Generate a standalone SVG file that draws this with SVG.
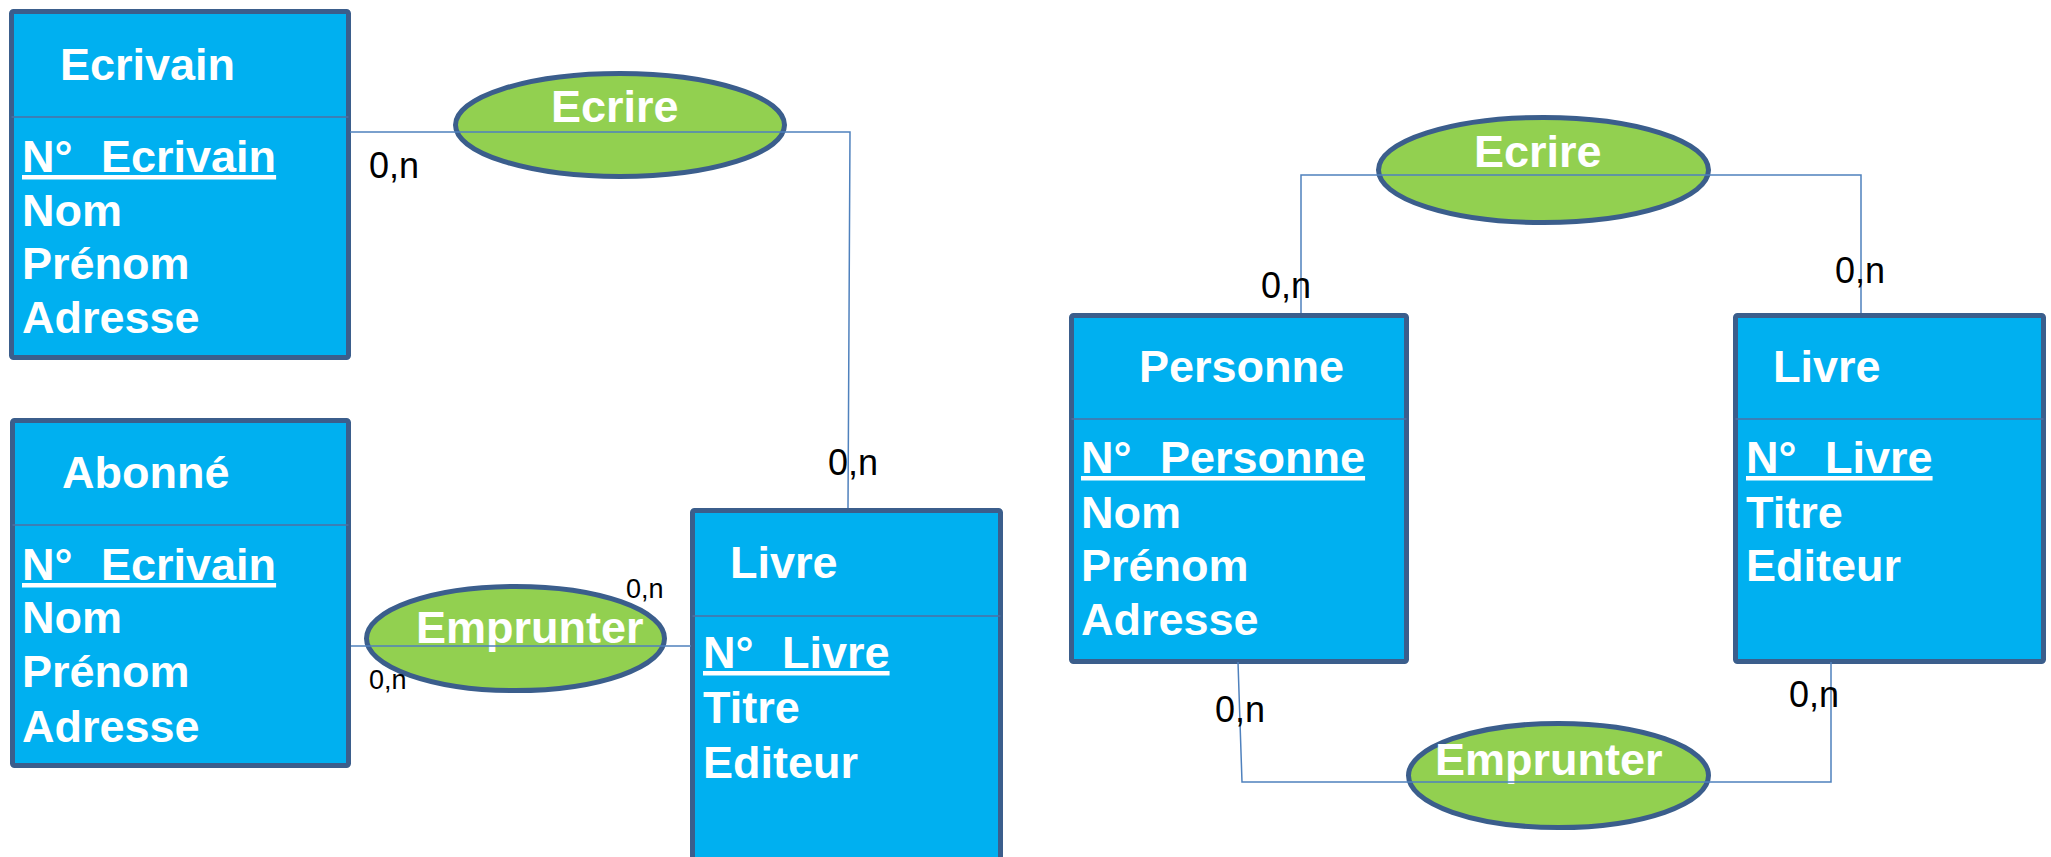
<svg xmlns="http://www.w3.org/2000/svg" width="2051" height="857" viewBox="0 0 2051 857">
<style>
.box{fill:#00B0F0;stroke:#3B5E8C;stroke-width:5}
.div{stroke:#4F6FA3;stroke-width:1.5}
.rel{fill:#92D050;stroke:#3B5E8C;stroke-width:5}
.t{font-family:"Liberation Sans",Arial,sans-serif;font-weight:bold;font-size:45px;fill:#FFFFFF}
.k{text-decoration:underline;word-spacing:16px}
.c{font-family:"Liberation Sans",Arial,sans-serif;font-size:36px;fill:#000000}
.cs{font-size:27px}
.ln{fill:none;stroke:#4F81BD;stroke-width:1.5}
</style>
<rect width="2051" height="857" fill="#FFFFFF"/>
<g id="ecrivain">
<rect class="box" x="11.5" y="11.5" width="337" height="346" rx="2"/>
<line class="div" x1="11.5" y1="117" x2="348.5" y2="117"/>
<text class="t" x="60" y="80">Ecrivain</text>
<text class="t k" x="22" y="172">N° Ecrivain</text>
<text class="t" x="22" y="226">Nom</text>
<text class="t" x="22" y="279">Prénom</text>
<text class="t" x="22" y="333">Adresse</text>
</g>
<g id="abonne">
<rect class="box" x="12.5" y="420.5" width="336" height="345" rx="2"/>
<line class="div" x1="12.5" y1="525" x2="348.5" y2="525"/>
<text class="t" x="62" y="488">Abonné</text>
<text class="t k" x="22" y="580">N° Ecrivain</text>
<text class="t" x="22" y="633">Nom</text>
<text class="t" x="22" y="687">Prénom</text>
<text class="t" x="22" y="742">Adresse</text>
</g>
<g id="livre1">
<rect class="box" x="692.5" y="510.5" width="308" height="370" rx="2"/>
<line class="div" x1="692.5" y1="616" x2="1000.5" y2="616"/>
<text class="t" x="730" y="578">Livre</text>
<text class="t k" x="703" y="668">N° Livre</text>
<text class="t" x="703" y="723">Titre</text>
<text class="t" x="703" y="778">Editeur</text>
</g>
<g id="personne">
<rect class="box" x="1071.5" y="315.5" width="335" height="346" rx="2"/>
<line class="div" x1="1071.5" y1="419" x2="1406.5" y2="419"/>
<text class="t" x="1139" y="382">Personne</text>
<text class="t k" x="1081" y="473">N° Personne</text>
<text class="t" x="1081" y="528">Nom</text>
<text class="t" x="1081" y="581">Prénom</text>
<text class="t" x="1081" y="635">Adresse</text>
</g>
<g id="livre2">
<rect class="box" x="1735.5" y="315.5" width="308" height="346" rx="2"/>
<line class="div" x1="1735.5" y1="419" x2="2043.5" y2="419"/>
<text class="t" x="1773" y="382">Livre</text>
<text class="t k" x="1746" y="473">N° Livre</text>
<text class="t" x="1746" y="528">Titre</text>
<text class="t" x="1746" y="581">Editeur</text>
</g>
<g id="ecrire1">
<ellipse class="rel" cx="620" cy="125" rx="164.5" ry="51.5"/>
<text class="t" x="551" y="122">Ecrire</text>
</g>
<g id="emprunter1">
<ellipse class="rel" cx="515.5" cy="638.5" rx="149" ry="52"/>
<text class="t" x="416" y="643">Emprunter</text>
</g>
<g id="ecrire2">
<ellipse class="rel" cx="1543.5" cy="170" rx="165" ry="52.5"/>
<text class="t" x="1474" y="167">Ecrire</text>
</g>
<g id="emprunter2">
<ellipse class="rel" cx="1558.5" cy="775.5" rx="150" ry="52"/>
<text class="t" x="1435" y="775">Emprunter</text>
</g>
<g id="connectors">
<polyline class="ln" points="350,132 850,132 848,508"/>
<line class="ln" x1="351" y1="646" x2="691" y2="646"/>
<polyline class="ln" points="1301,313 1301,175 1861,175 1861,313"/>
<polyline class="ln" points="1238,662 1242,782 1831,782 1831,662"/>
</g>
<g id="cardinalities">
<text class="c" x="369" y="178">0,n</text>
<text class="c" x="828" y="475">0,n</text>
<text class="c cs" x="626" y="598">0,n</text>
<text class="c cs" x="369" y="689">0,n</text>
<text class="c" x="1261" y="298">0,n</text>
<text class="c" x="1835" y="283">0,n</text>
<text class="c" x="1215" y="722">0,n</text>
<text class="c" x="1789" y="707">0,n</text>
</g>
</svg>
